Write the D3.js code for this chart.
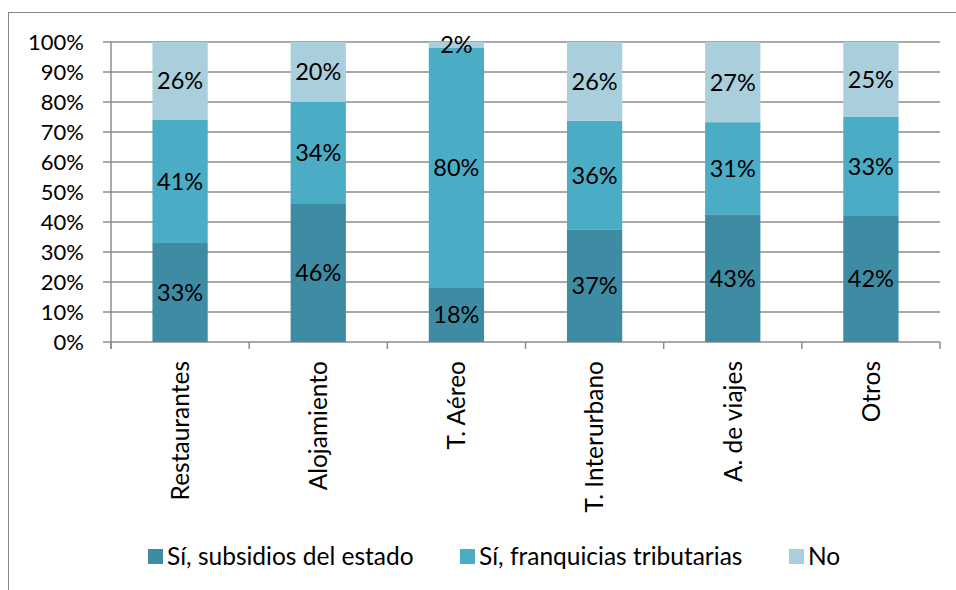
<!DOCTYPE html>
<html>
<head>
<meta charset="utf-8">
<script src="https://cdn.jsdelivr.net/npm/d3@7"></script>
<style>
  body { margin: 0; background: #fff; }
  text { font-family: Lato, "Open Sans", sans-serif; fill: #000; }
</style>
</head>
<body>
<script>
// categorias y series
var categorias = ["Restaurantes", "Alojamiento", "T. Aéreo", "T. Interurbano", "A. de viajes", "Otros"];
var subsidios = [33, 46, 18, 37, 43, 42];
var franquicias = [41, 34, 80, 36, 31, 33];
var no = [26, 20, 2, 26, 27, 25];
var series = ["Sí, subsidios del estado", "Sí, franquicias tributarias", "No"];
var colores = ["#3e8ca3", "#4bacc6", "#a9cfdd"];
var ticksY = [0, 10, 20, 30, 40, 50, 60, 70, 80, 90, 100];

var W = 956, H = 590;
var margin = {left: 111, top: 42, right: 16, bottom: 248};

var svg = d3.select("body").append("svg")
    .attr("width", W).attr("height", H);

// borde exterior
svg.append("rect")
    .attr("x", 8.5).attr("y", 12.5)
    .attr("width", 960).attr("height", 600)
    .attr("fill", "none").attr("stroke", "#888");

var x = d3.scaleBand().domain(categorias).range([margin.left, W - margin.right]).paddingInner(0.6).paddingOuter(0.3);
var xb = d3.scaleBand().domain(categorias).range([margin.left, W - margin.right]);
var y = d3.scaleLinear().domain([0, 100]).range([H - margin.bottom, margin.top]);

// tabla normalizada (100% apilado)
var tabla = categorias.map(function (c, i) {
    var total = subsidios[i] + franquicias[i] + no[i];
    return {cat: c, vals: [subsidios[i], franquicias[i], no[i]], total: total};
});
var stack = d3.stack().keys([0, 1, 2]).value(function (d, k) { return d.vals[k] / d.total * 100; });
var capas = stack(tabla);

// grilla
svg.append("g").selectAll("line").data(ticksY).enter().append("line")
    .attr("x1", margin.left - 8).attr("x2", W - margin.right)
    .attr("y1", function (d) { return y(d); }).attr("y2", function (d) { return y(d); })
    .attr("stroke", "#8c8c8c").attr("stroke-width", 1.5);

// eje y
svg.append("line").attr("x1", margin.left).attr("x2", margin.left)
    .attr("y1", y(100)).attr("y2", y(0) + 7)
    .attr("stroke", "#8c8c8c").attr("stroke-width", 1.5);

svg.append("g").selectAll("text").data(ticksY).enter().append("text")
    .attr("x", 84).attr("y", function (d) { return y(d); })
    .attr("dy", "0.35em").attr("text-anchor", "end")
    .attr("font-size", 22)
    .text(function (d) { return d + "%"; });

// ticks inferiores
var bordes = categorias.map(function (c) { return xb(c); }).concat([W - margin.right]);
svg.append("g").selectAll("line").data(bordes).enter().append("line")
    .attr("x1", function (d) { return d; }).attr("x2", function (d) { return d; })
    .attr("y1", y(0)).attr("y2", y(0) + 7)
    .attr("stroke", "#8c8c8c").attr("stroke-width", 1.5);

// barras
var grupos = svg.append("g").selectAll("g").data(capas).enter().append("g")
    .attr("fill", function (d, i) { return colores[i]; });

grupos.selectAll("rect").data(function (d) { return d; }).enter().append("rect")
    .attr("x", function (d) { return x(d.data.cat); })
    .attr("width", x.bandwidth())
    .attr("y", function (d) { return y(d[1]); })
    .attr("height", function (d) { return y(d[0]) - y(d[1]); });

// etiquetas de valores
grupos.selectAll("text").data(function (d, k) {
    return d.map(function (p) { return {p: p, k: k}; });
}).enter().append("text")
    .attr("x", function (d) { return x(d.p.data.cat) + x.bandwidth() / 2; })
    .attr("y", function (d) { return y((d.p[0] + d.p[1]) / 2); })
    .attr("dy", "0.36em").attr("text-anchor", "middle")
    .attr("font-size", 23.5)
    .text(function (d) { return d.p.data.vals[d.k] + "%"; });

// etiquetas del eje x
svg.append("g").selectAll("text").data(categorias).enter().append("text")
    .attr("transform", function (d) {
        return "translate(" + (x(d) + x.bandwidth() / 2) + "," + (y(0) + 19) + ") rotate(-90)";
    })
    .attr("dy", "0.36em").attr("text-anchor", "end")
    .attr("font-size", 24.5)
    .text(function (d) { return d; });

// leyenda
var leyX = [148, 460, 789];
var ley = svg.append("g").selectAll("g").data(series).enter().append("g")
    .attr("transform", function (d, i) { return "translate(" + leyX[i] + ",556)"; });
ley.append("rect").attr("x", 0).attr("y", -7).attr("width", 15).attr("height", 15)
    .attr("fill", function (d, i) { return colores[i]; });
ley.append("text").attr("x", 19).attr("y", 0).attr("dy", "0.36em")
    .attr("font-size", 24.5)
    .text(function (d) { return d; });
</script>
</body>
</html>
